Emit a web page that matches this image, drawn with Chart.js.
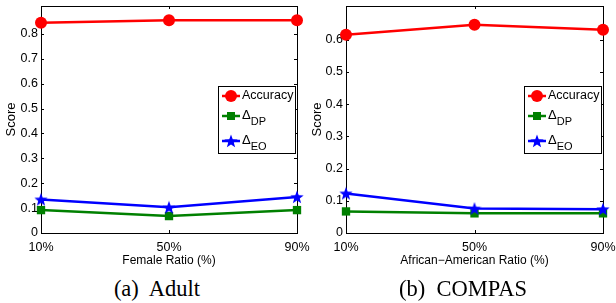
<!DOCTYPE html>
<html>
<head>
<meta charset="utf-8">
<script src="https://cdn.jsdelivr.net/npm/chart.js@4/dist/chart.umd.min.js"></script>
<style>
  body { margin: 0; background: #fff; width: 616px; height: 303px; position: relative; overflow: hidden; }
  .panel { position: absolute; top: 0; width: 310px; height: 270px; }
  .caption { position: absolute; top: 276px; font-family: "Liberation Serif", serif; font-size: 22.5px; color: #000; text-align: center; white-space: pre; }
</style>
</head>
<body>
<div class="panel" style="left:0"><canvas id="adultChart" width="310" height="270"></canvas></div>
<div class="panel" style="left:306px"><canvas id="compasChart" width="310" height="270"></canvas></div>
<div class="caption" style="left:0;width:314px">(a)  Adult</div>
<div class="caption" style="left:306px;width:314px">(b)  COMPAS</div>
<script>
const ratioLabels = ["10%", "50%", "90%"];

const adultAccuracy = [0.845, 0.855, 0.855];
const adultDP = [0.092, 0.068, 0.092];
const adultEO = [0.135, 0.103, 0.145];
const adultTicks = [0, 0.1, 0.2, 0.3, 0.4, 0.5, 0.6, 0.7, 0.8];

const compasAccuracy = [0.616, 0.647, 0.631];
const compasDP = [0.067, 0.061, 0.061];
const compasEO = [0.123, 0.076, 0.074];
const compasTicks = [0, 0.1, 0.2, 0.3, 0.4, 0.5, 0.6];

const RED = "#ff0000";
const GREEN = "#008000";
const BLUE = "#0000ff";
const FONT = "Liberation Sans, Arial, sans-serif";
const CLEAR = "rgba(0,0,0,0)";

// filled 5-point star used as point style
function makeStar(size, color) {
  const c = document.createElement("canvas");
  c.width = size; c.height = size;
  const ctx = c.getContext("2d");
  const cx = size / 2, cy = size / 2 + 0.6;
  const outer = size / 2, inner = outer * 0.42;
  ctx.beginPath();
  for (let i = 0; i < 10; i++) {
    const r = i % 2 === 0 ? outer : inner;
    const a = -Math.PI / 2 + i * Math.PI / 5;
    const x = cx + r * Math.cos(a), y = cy + r * Math.sin(a);
    if (i === 0) ctx.moveTo(x, y); else ctx.lineTo(x, y);
  }
  ctx.closePath();
  ctx.fillStyle = color;
  ctx.fill();
  return c;
}
const star = makeStar(14, BLUE);

function drawMarker(ctx, kind, x, y) {
  if (kind === "circle") {
    ctx.beginPath();
    ctx.arc(x, y, 6, 0, Math.PI * 2);
    ctx.fillStyle = RED;
    ctx.fill();
  } else if (kind === "rect") {
    ctx.fillStyle = GREEN;
    ctx.fillRect(x - 4, y - 4, 8, 8);
  } else {
    ctx.drawImage(star, x - star.width / 2, y - star.height / 2);
  }
}

// box, inside ticks, and legend with subscripts
const matlabAxes = {
  id: "matlabAxes",
  beforeDatasetsDraw(chart) {
    const { ctx, chartArea: a, scales } = chart;
    ctx.save();
    ctx.strokeStyle = "#000";
    ctx.lineWidth = 1;
    ctx.strokeRect(Math.round(a.left) + 0.5, Math.round(a.top) + 0.5,
      Math.round(a.right - a.left), Math.round(a.bottom - a.top));
    ctx.beginPath();
    scales.y.ticks.forEach(t => {
      const py = Math.round(scales.y.getPixelForValue(t.value)) + 0.5;
      ctx.moveTo(a.left, py); ctx.lineTo(a.left + 3, py);
      ctx.moveTo(a.right, py); ctx.lineTo(a.right - 3, py);
    });
    scales.x.ticks.forEach((t, i) => {
      const px = Math.round(scales.x.getPixelForValue(i)) + 0.5;
      ctx.moveTo(px, a.bottom); ctx.lineTo(px, a.bottom - 3);
      ctx.moveTo(px, a.top); ctx.lineTo(px, a.top + 3);
    });
    ctx.stroke();
    ctx.restore();
  },
  afterDraw(chart) {
    const { ctx, chartArea: a } = chart;
    const w = 77, h = 67;
    const x0 = Math.round(a.right - 2 - w), y0 = 86;
    ctx.save();
    ctx.fillStyle = "#fff";
    ctx.fillRect(x0, y0, w, h);
    ctx.strokeStyle = "#000";
    ctx.lineWidth = 1;
    ctx.strokeRect(x0 + 0.5, y0 + 0.5, w, h);
    const rows = [
      { kind: "circle", color: RED, text: "Accuracy", dy: 10 },
      { kind: "rect", color: GREEN, text: "Δ", sub: "DP", dy: 30 },
      { kind: "star", color: BLUE, text: "Δ", sub: "EO", dy: 55 }
    ];
    rows.forEach(r => {
      const y = y0 + r.dy;
      ctx.strokeStyle = r.color;
      ctx.lineWidth = 2.5;
      ctx.beginPath();
      ctx.moveTo(x0 + 4, y); ctx.lineTo(x0 + 22, y);
      ctx.stroke();
      drawMarker(ctx, r.kind, x0 + 13, y);
      ctx.fillStyle = "#000";
      ctx.textBaseline = "middle";
      ctx.textAlign = "left";
      if (!r.sub) {
        ctx.font = "12.5px " + FONT;
        ctx.fillText(r.text, x0 + 24, y);
      } else {
        ctx.font = "13px " + FONT;
        ctx.fillText(r.text, x0 + 24, y - 1);
        const dw = ctx.measureText(r.text).width;
        ctx.font = "11px " + FONT;
        ctx.fillText(r.sub, x0 + 24 + dw, y + 6);
      }
    });
    ctx.restore();
  }
};

function makeChart(canvasId, acc, dp, eo, yTicks, yMax, xTitle, yAxisWidth) {
  const common = { borderWidth: 2.5, pointBorderWidth: 0, tension: 0, clip: false };
  return new Chart(document.getElementById(canvasId), {
    type: "line",
    data: {
      labels: ratioLabels,
      datasets: [
        { ...common, label: "Accuracy", data: acc, borderColor: RED, backgroundColor: RED,
          pointStyle: "circle", pointRadius: 6, order: 3 },
        { ...common, label: "DP", data: dp, borderColor: GREEN, backgroundColor: GREEN,
          pointStyle: "rect", pointRadius: 5.9, order: 2 },
        { ...common, label: "EO", data: eo, borderColor: BLUE, backgroundColor: BLUE,
          pointStyle: star, order: 1 }
      ]
    },
    options: {
      responsive: false,
      animation: false,
      layout: { padding: { top: 5, right: 13, left: 0, bottom: 0 } },
      plugins: { legend: { display: false }, tooltip: { enabled: false } },
      scales: {
        x: {
          offset: false,
          grid: { display: true, color: CLEAR, drawOnChartArea: false, drawTicks: true, tickLength: 7 },
          border: { display: false },
          ticks: { color: "#000", font: { family: FONT, size: 12.5 }, padding: 0, maxRotation: 0 },
          title: { display: true, text: xTitle, color: "#000", font: { family: FONT, size: 12 }, padding: { top: 0, bottom: 2 } },
          afterFit(s) { s.height = 37; }
        },
        y: {
          min: 0,
          max: yMax,
          grid: { display: true, color: CLEAR, drawOnChartArea: false, drawTicks: true, tickLength: 3 },
          border: { display: false },
          afterBuildTicks(axis) { axis.ticks = yTicks.map(v => ({ value: v })); },
          ticks: { color: "#000", font: { family: FONT, size: 12.5, lineHeight: 0.8 }, padding: 0,
            callback: v => String(v) },
          title: { display: true, text: "Score", color: "#000", font: { family: FONT, size: 13 }, padding: { top: 4, bottom: 0 } },
          afterFit(s) { s.width = yAxisWidth; }
        }
      }
    },
    plugins: [matlabAxes]
  });
}

makeChart("adultChart", adultAccuracy, adultDP, adultEO, adultTicks, 0.912, "Female Ratio (%)", 41);
makeChart("compasChart", compasAccuracy, compasDP, compasEO, compasTicks, 0.705, "African\u2212American Ratio (%)", 40);
</script>
</body>
</html>
